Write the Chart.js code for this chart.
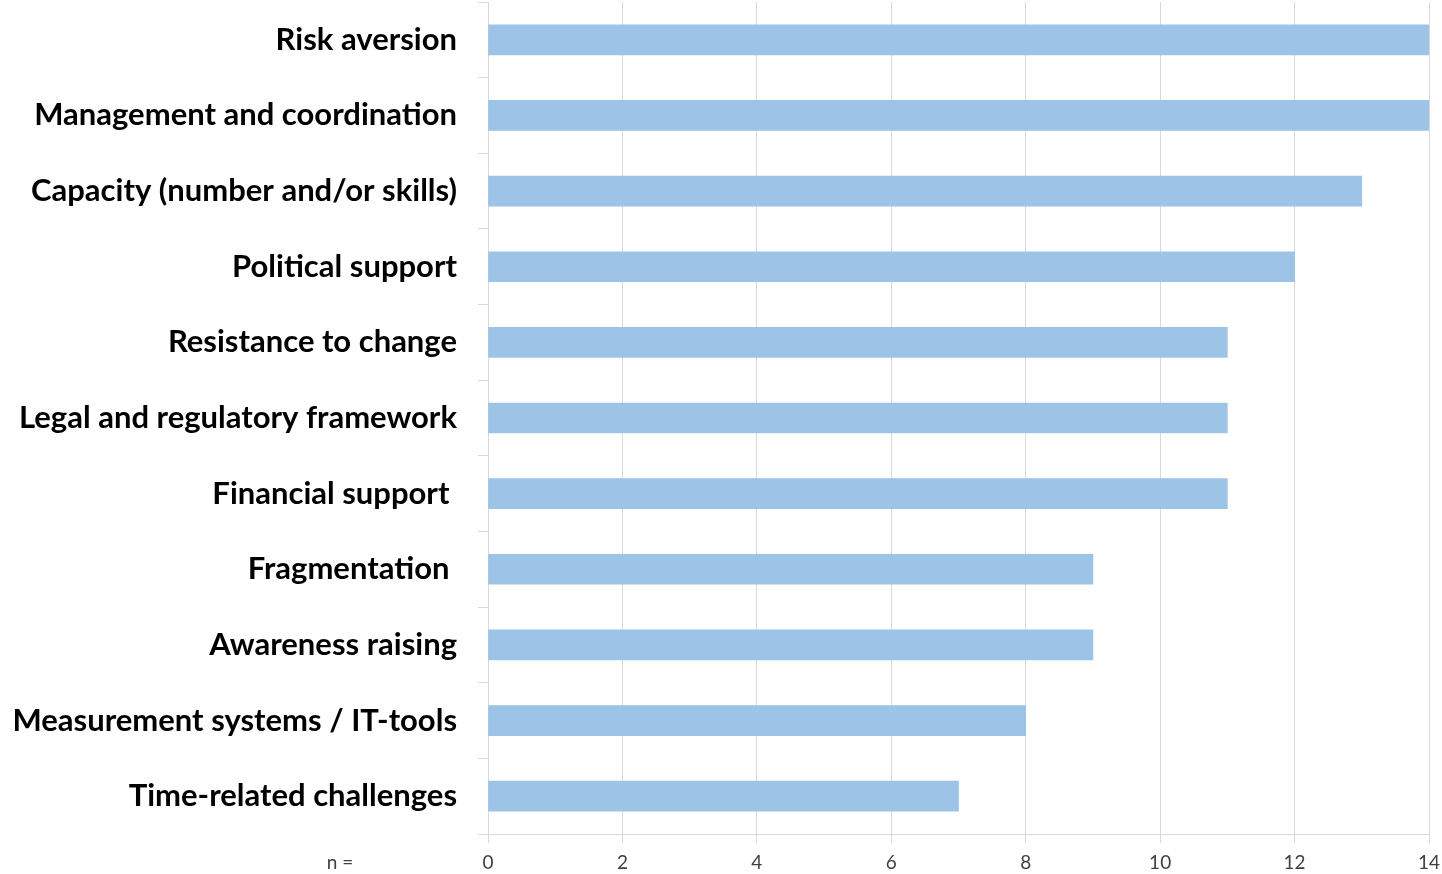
<!DOCTYPE html>
<html>
<head>
<meta charset="utf-8">
<script src="https://cdn.jsdelivr.net/npm/chart.js@4"></script>
<style>
  html, body { margin: 0; padding: 0; background: #ffffff; }
  #wrap { width: 1442px; height: 874px; }
</style>
</head>
<body>
<div id="wrap"><canvas id="myChart" width="1442" height="874"></canvas></div>
<script>
// datos
const categories = [
  'Risk aversion',
  'Management and coordination',
  'Capacity (number and/or skills)',
  'Political support',
  'Resistance to change',
  'Legal and regulatory framework',
  'Financial support ',
  'Fragmentation ',
  'Awareness raising',
  'Measurement systems / IT-tools',
  'Time-related challenges'
];
const counts = [14, 14, 13, 12, 11, 11, 11, 9, 9, 8, 7];
const xTicks = [0, 2, 4, 6, 8, 10, 12, 14];

// texto "n =" debajo del eje
const nLabel = {
  id: 'nLabel',
  afterDraw(chart) {
    const ctx = chart.ctx;
    ctx.save();
    ctx.font = '19px Lato, sans-serif';
    ctx.fillStyle = '#404040';
    ctx.textAlign = 'center';
    ctx.textBaseline = 'middle';
    ctx.fillText('n =', 340, 863);
    ctx.restore();
  }
};

// setup
const data = {
  labels: categories,
  datasets: [{
    label: 'n',
    data: counts,
    backgroundColor: '#9DC3E6',
    borderWidth: 0,
    barThickness: 30
  }]
};

// config
const config = {
  type: 'bar',
  data,
  plugins: [nLabel],
  options: {
    indexAxis: 'y',
    responsive: false,
    animation: false,
    layout: { padding: { top: 2, right: 13, left: 0, bottom: 0 } },
    plugins: {
      legend: { display: false },
      tooltip: { enabled: false }
    },
    scales: {
      x: {
        min: 0,
        max: 14,
        afterBuildTicks: (scale) => { scale.ticks = xTicks.map(v => ({ value: v })); },
        afterFit: (scale) => {
          scale.height = 40;
          scale.paddingLeft = 0;
          scale.paddingRight = 0;
        },
        grid: {
          color: '#d9d9d9',
          lineWidth: 1,
          drawTicks: true,
          tickLength: 9,
          tickColor: '#d9d9d9'
        },
        border: { color: '#d9d9d9' },
        ticks: {
          color: '#404040',
          padding: 8,
          font: { family: 'Lato, sans-serif', size: 19 }
        }
      },
      y: {
        afterFit: (scale) => {
          scale.width = 488;
          scale.paddingTop = 0;
          scale.paddingBottom = 0;
        },
        grid: {
          offset: true,
          drawOnChartArea: false,
          drawTicks: true,
          tickLength: 10,
          tickColor: '#d9d9d9'
        },
        border: { color: '#d9d9d9' },
        ticks: {
          color: '#000000',
          padding: 21,
          autoSkip: false,
          font: { family: 'Lato, sans-serif', size: 31, weight: 'bold' }
        }
      }
    }
  }
};

// render
const myChart = new Chart(document.getElementById('myChart'), config);
</script>
</body>
</html>
